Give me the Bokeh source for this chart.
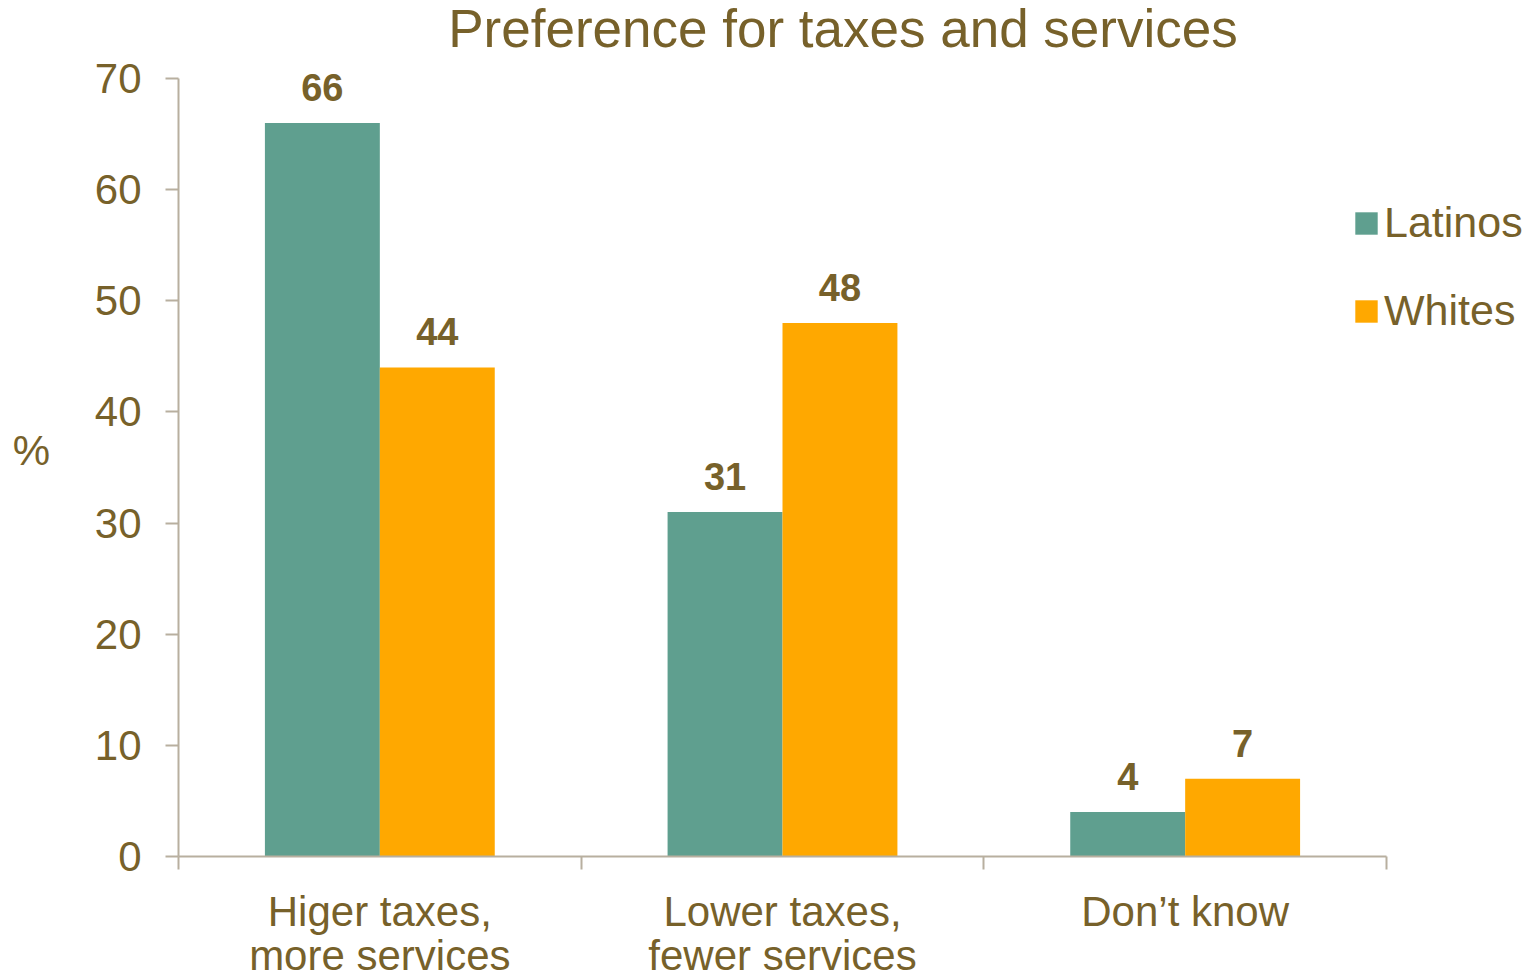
from bokeh.plotting import figure
from bokeh.models import (Range1d, ColumnDataSource, LinearAxis, FixedTicker,
                          LabelSet, Label, Legend, LegendItem)
from bokeh.transform import dodge
from bokeh.core.properties import value
from bokeh.embed import file_html
from bokeh.resources import INLINE

# ---- data ----
categories = ["Higer taxes,\nmore services", "Lower taxes,\nfewer services", "Don\u2019t know"]
series_names = ["Latinos", "Whites"]
latinos = [66, 31, 4]
whites = [44, 48, 7]
y_ticks = [0, 10, 20, 30, 40, 50, 60, 70]
title_text = "Preference for taxes and services"
y_label_text = "%"

# ---- style ----
FONT = "Liberation Sans"
TXT = "#77612A"
AXIS = "#B8AF9F"
TEAL = "#5F9F8F"
ORANGE = "#FFA800"

# ---- layout (pixels): the plot frame covers the whole canvas so that no text is clipped ----
W, H = 1530, 978
AX_LEFT, AX_RIGHT = 178, 1386      # pixel x of the category-axis ends
AX_TOP, AX_BOTTOM = 78, 856        # pixel y of y-axis top (max tick) and bottom (0)
n = len(categories)
ymax = y_ticks[-1]
px_x = (AX_RIGHT - AX_LEFT) / n
px_y = (AX_BOTTOM - AX_TOP) / ymax
x_range = Range1d(-AX_LEFT / px_x, n + (W - AX_RIGHT) / px_x)
y_range = Range1d(-(H - AX_BOTTOM) / px_y, ymax + AX_TOP / px_y)

lines = [c.split("\n") for c in categories]
source = ColumnDataSource(dict(
    cat=categories,
    line1=[l[0] for l in lines],
    line2=[l[1] if len(l) > 1 else "" for l in lines],
    xc=[i + 0.5 for i in range(n)],
    latinos=latinos,
    whites=whites,
    latinos_txt=[str(v) for v in latinos],
    whites_txt=[str(v) for v in whites],
    zero=[0] * n,
))

p = figure(width=W, height=H, x_range=x_range, y_range=y_range,
           output_backend="svg", toolbar_location=None,
           x_axis_location=None, y_axis_location=None,
           min_border=0, outline_line_color=None,
           background_fill_color="white", border_fill_color="white")
p.grid.visible = False

# y axis, drawn at x = 0
yaxis = LinearAxis(fixed_location=0, bounds=(0, ymax),
                   ticker=FixedTicker(ticks=y_ticks),
                   axis_line_color=AXIS, axis_line_width=2,
                   major_tick_line_color=AXIS, major_tick_line_width=2,
                   major_tick_out=13, major_tick_in=0,
                   minor_tick_line_color=None,
                   major_label_text_font=FONT, major_label_text_font_size="42px",
                   major_label_text_color=TXT, major_label_standoff=24)
p.add_layout(yaxis, "left")

# x axis, drawn at y = 0, with tick marks at the category boundaries
xaxis = LinearAxis(fixed_location=0, bounds=(0, n),
                   ticker=FixedTicker(ticks=list(range(n + 1))),
                   axis_line_color=AXIS, axis_line_width=2,
                   major_tick_line_color=AXIS, major_tick_line_width=2,
                   major_tick_out=13, major_tick_in=0,
                   minor_tick_line_color=None,
                   major_label_text_color=None, major_label_text_font_size="1px")
p.add_layout(xaxis, "below")

# bars
off = 0.1427
bw = 0.2854
r1 = p.vbar(x=dodge("xc", -off), top="latinos", width=bw,
            source=source, fill_color=TEAL, line_color=None)
r2 = p.vbar(x=dodge("xc", off), top="whites", width=bw,
            source=source, fill_color=ORANGE, line_color=None)

# value labels
for col, o in (("latinos", -off), ("whites", off)):
    p.add_layout(LabelSet(x=dodge("xc", o), y=col, text=col + "_txt",
                          source=source, y_offset=22, text_align="center",
                          text_baseline="alphabetic", text_font=value(FONT),
                          text_font_size="38px", text_font_style="bold",
                          text_color=TXT))

# category labels (each line centred on its own)
for col, yo in (("line1", -69), ("line2", -113)):
    p.add_layout(LabelSet(x="xc", y="zero", text=col, source=source, y_offset=yo,
                          text_align="center", text_baseline="alphabetic",
                          text_font=value(FONT), text_font_size="42px",
                          text_color=TXT))

# title
p.add_layout(Label(x=(842.5 - AX_LEFT) / px_x, y=ymax, y_offset=50, text=title_text,
                   text_align="center", text_baseline="alphabetic",
                   text_font=FONT, text_font_size="53px", text_color=TXT))

# y label
p.add_layout(Label(x=(31 - AX_LEFT) / px_x, y=(AX_BOTTOM - 450) / px_y, text=y_label_text,
                   text_align="center", text_baseline="middle", text_font=FONT,
                   text_font_size="42px", text_color=TXT))

# legend
legend = Legend(items=[LegendItem(label=series_names[0], renderers=[r1]),
                       LegendItem(label=series_names[1], renderers=[r2])],
                location=(1352, H - 335), orientation="vertical",
                glyph_width=28, glyph_height=28, label_standoff=4, spacing=39,
                padding=0, margin=0, border_line_color=None,
                background_fill_alpha=0,
                label_text_font=FONT, label_text_font_size="43px",
                label_text_color=TXT)
p.add_layout(legend)

open("out.html", "w").write(file_html(p, INLINE))
